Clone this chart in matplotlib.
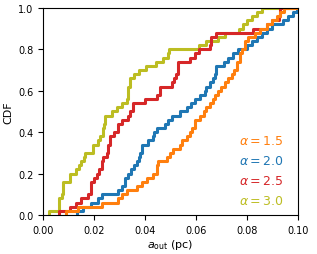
import numpy as np
import matplotlib
matplotlib.use('Agg')
import matplotlib.pyplot as plt

# sorted samples of a_out (pc), 50 per alpha
a_15 = [0.009, 0.0137, 0.023, 0.0294, 0.031, 0.033, 0.0367, 0.039, 0.0407, 0.043,
        0.0446, 0.0446, 0.045, 0.0485, 0.0498, 0.051, 0.0537, 0.0544, 0.0563, 0.0576,
        0.0583, 0.0596, 0.0596, 0.0616, 0.063, 0.064, 0.0655, 0.0667, 0.0675, 0.0687,
        0.070, 0.0714, 0.0727, 0.074, 0.075, 0.076, 0.076, 0.0773, 0.0773, 0.078,
        0.0792, 0.0792, 0.0805, 0.083, 0.085, 0.0877, 0.0897, 0.0916, 0.093, 0.0945]
a_20 = [0.0132, 0.0158, 0.019, 0.0217, 0.023, 0.0294, 0.031, 0.032, 0.032, 0.0335,
        0.0345, 0.0355, 0.0367, 0.0375, 0.038, 0.0387, 0.0387, 0.041, 0.043, 0.0437,
        0.0446, 0.048, 0.049, 0.0505, 0.0537, 0.0563, 0.058, 0.0596, 0.0616, 0.0635,
        0.064, 0.0655, 0.0665, 0.0675, 0.068, 0.068, 0.071, 0.0727, 0.0745, 0.0765,
        0.080, 0.082, 0.084, 0.0858, 0.0877, 0.090, 0.094, 0.096, 0.098, 0.0995]
a_25 = [0.0062, 0.0106, 0.013, 0.015, 0.0178, 0.019, 0.019, 0.019, 0.020, 0.021,
        0.022, 0.023, 0.023, 0.0235, 0.025, 0.0255, 0.0255, 0.0263, 0.0263, 0.028,
        0.0294, 0.0295, 0.031, 0.0334, 0.034, 0.0353, 0.0353, 0.040, 0.0446, 0.046,
        0.046, 0.0505, 0.0515, 0.052, 0.053, 0.053, 0.053, 0.0576, 0.0596, 0.061,
        0.0655, 0.066, 0.066, 0.068, 0.0825, 0.0877, 0.090, 0.0925, 0.093, 0.093]
a_30 = [0.0025, 0.0062, 0.0063, 0.0064, 0.0075, 0.0078, 0.008, 0.008, 0.0106, 0.0106,
        0.013, 0.014, 0.015, 0.016, 0.0165, 0.0195, 0.0197, 0.0216, 0.0225, 0.0237,
        0.0237, 0.024, 0.0243, 0.0245, 0.027, 0.029, 0.031, 0.033, 0.0335, 0.0335,
        0.0335, 0.034, 0.034, 0.0355, 0.0375, 0.0405, 0.0445, 0.047, 0.049, 0.0495,
        0.061, 0.064, 0.0685, 0.0715, 0.077, 0.0785, 0.080, 0.082, 0.084, 0.0858]

alphas = ['1.5', '2.0', '2.5', '3.0']
colors = ['tab:orange', 'tab:blue', 'tab:red', 'tab:olive']
samples = [a_15, a_20, a_25, a_30]

xmax = 0.1

fig = plt.figure(figsize=(3.17, 2.55), dpi=100)
ax = fig.add_axes([0.1356, 0.153, 0.8044, 0.812])

# draw 3.0 first so the lower alphas sit on top
for i in [3, 2, 1, 0]:
    x = np.sort(samples[i])
    n = len(x)
    xs = np.concatenate([[x[0]], x, [xmax]])
    ys = np.concatenate([[0], np.arange(1, n + 1) / n, [1]])
    ax.step(xs, ys, where='post', color=colors[i], lw=2.2)

for i, a in enumerate(alphas):
    ax.text(0.942, 0.362 - i * 0.098, r'$\alpha = %s$' % a, color=colors[i],
            fontsize=9, ha='right', va='center', transform=ax.transAxes)

ax.set_xlim(0, xmax)
ax.set_ylim(0, 1)
ax.set_xticks([0, 0.02, 0.04, 0.06, 0.08, 0.1])
ax.set_yticks([0, 0.2, 0.4, 0.6, 0.8, 1.0])
ax.tick_params(labelsize=7)
ax.set_xlabel(r'$a_{\rm out}$ (pc)', fontsize=8, labelpad=2)
ax.set_ylabel('CDF', fontsize=8, labelpad=3)

fig.savefig('out.png', dpi=100)
